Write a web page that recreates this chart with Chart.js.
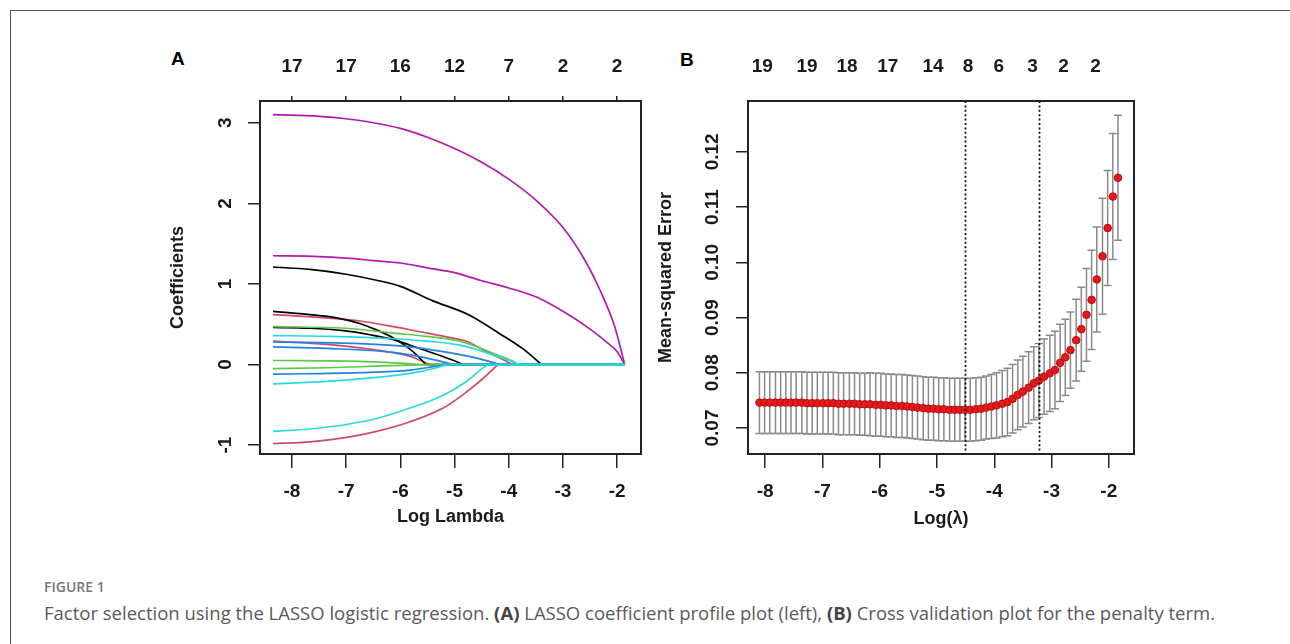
<!DOCTYPE html>
<html>
<head>
<meta charset="utf-8">
<script src="https://cdn.jsdelivr.net/npm/chart.js@4.4.1/dist/chart.umd.min.js"></script>
<style>
  html, body { margin: 0; padding: 0; background: #fff; overflow: hidden; }
  #page { position: relative; width: 1290px; height: 644px; overflow: hidden; font-family: "Liberation Sans", Arial, sans-serif; }
  #frame { position: absolute; left: 10px; top: 10px; width: 1300px; height: 660px; border-top: 1px solid #555; border-left: 1px solid #555; }
  .panelTag { position: absolute; font-size: 19px; line-height: 20px; font-weight: bold; color: #000; }
  .wrap { position: absolute; top: 40px; width: 500px; height: 500px; }
  #figLabel { position: absolute; left: 44px; top: 578px; font-family: "Open Sans", sans-serif; font-weight: 600; font-size: 14px; line-height: 18px; color: #777; }
  #caption { position: absolute; left: 44px; top: 602px; font-family: "Open Sans", sans-serif; font-size: 18.5px; line-height: 22px; color: #5a5a5a; white-space: nowrap; }
  #caption b { font-weight: 700; color: #444; }
</style>
</head>
<body>
<div id="page">
  <div id="frame"></div>
  <div class="panelTag" style="left:171px; top:49px;">A</div>
  <div class="panelTag" style="left:680px; top:50px;">B</div>
  <div class="wrap" style="left:150px;"><canvas id="chartA" width="500" height="500"></canvas></div>
  <div class="wrap" style="left:650px;"><canvas id="chartB" width="500" height="500"></canvas></div>
  <div id="figLabel">FIGURE 1</div>
  <div id="caption">Factor selection using the LASSO logistic regression. <b>(A)</b> LASSO coefficient profile plot (left), <b>(B)</b> Cross validation plot for the penalty term.</div>
</div>
<script>
// ---- panel A: coefficient paths, [log lambda, coefficient] knots
const pathC1 = [[-8.35,0.36],[-7.30,0.35],[-6.13,0.32],[-5.51,0.29],[-4.90,0.24],[-4.29,0.12],[-3.79,0]];
const pathC2 = [[-8.35,-0.24],[-7.36,-0.21],[-6.44,-0.16],[-5.82,-0.11],[-5.33,-0.04],[-5.15,0]];
const pathC3 = [[-8.35,-0.83],[-7.67,-0.80],[-7.05,-0.75],[-6.44,-0.67],[-5.82,-0.54],[-5.21,-0.38],[-4.78,-0.21],[-4.53,-0.07],[-4.38,0]];
const pathU1 = [[-8.35,0.28],[-6.75,0.26],[-5.82,0.22],[-5.21,0.16],[-4.59,0.08],[-4.16,0]];
const pathU2 = [[-8.35,0.22],[-7.36,0.20],[-6.13,0.15],[-5.51,0.08],[-5.02,0]];
const pathU3 = [[-8.35,-0.12],[-6.75,-0.10],[-5.82,-0.07],[-5.21,-0.01],[-4.90,0]];
const pathG1 = [[-8.35,0.47],[-7.00,0.45],[-6.13,0.39],[-5.51,0.35],[-4.90,0.29],[-4.59,0.22],[-4.29,0.14],[-3.92,0.04],[-3.83,0]];
const pathG2 = [[-8.35,0.05],[-6.75,0.04],[-5.82,0.01],[-5.60,0]];
const pathG3 = [[-8.35,-0.05],[-7.36,-0.04],[-6.44,-0.02],[-5.51,0]];
const pathR1 = [[-8.35,0.62],[-7.18,0.57],[-6.75,0.54],[-6.13,0.47],[-5.51,0.39],[-4.90,0.31],[-4.78,0.29],[-4.41,0.16],[-4.16,0.08],[-3.94,0]];
const pathR2 = [[-8.35,0.29],[-7.36,0.25],[-6.44,0.18],[-5.82,0.10],[-5.45,0]];
const pathR3 = [[-8.35,-0.98],[-7.67,-0.96],[-7.05,-0.91],[-6.44,-0.83],[-5.82,-0.71],[-5.21,-0.54],[-4.78,-0.34],[-4.47,-0.17],[-4.20,0]];
const pathK1 = [[-8.35,1.21],[-7.67,1.18],[-7.00,1.12],[-6.40,1.04],[-6.00,0.97],[-5.40,0.79],[-4.75,0.62],[-4.16,0.38],[-3.75,0.20],[-3.39,0]];
const pathK2 = [[-8.35,0.66],[-7.67,0.62],[-7.18,0.58],[-6.75,0.51],[-6.44,0.43],[-6.13,0.33],[-5.88,0.22],[-5.70,0.12],[-5.53,0]];
const pathK3 = [[-8.35,0.46],[-7.67,0.45],[-7.05,0.42],[-6.56,0.37],[-6.13,0.31],[-5.82,0.24],[-5.39,0.14],[-5.02,0.05],[-4.84,0]];
const pathM1 = [[-8.35,3.10],[-7.50,3.08],[-7.00,3.05],[-6.50,3.00],[-6.00,2.93],[-5.50,2.82],[-5.00,2.68],[-4.50,2.51],[-4.00,2.30],[-3.50,2.04],[-3.00,1.70],[-2.60,1.30],[-2.30,0.90],[-2.05,0.48],[-1.86,0]];
const pathM2 = [[-8.35,1.35],[-7.50,1.34],[-7.00,1.32],[-6.50,1.29],[-6.00,1.26],[-5.50,1.20],[-5.00,1.14],[-4.50,1.04],[-4.00,0.95],[-3.50,0.84],[-3.00,0.66],[-2.50,0.44],[-2.20,0.28],[-2.00,0.16],[-1.86,0]];
const pathEndA = -1.86;

const ticksA = [-8, -7, -6, -5, -4, -3, -2];
const topLabelsA = ['17', '17', '16', '12', '7', '2', '2'];
const yTicksA = [-1, 0, 1, 2, 3];

// ---- panel B: cross-validation curve
const logLambdaB = [-8.10,-8.01,-7.92,-7.82,-7.73,-7.64,-7.55,-7.46,-7.36,-7.27,-7.18,-7.09,-6.99,-6.90,-6.81,-6.72,-6.63,-6.53,-6.44,-6.35,-6.26,-6.17,-6.07,-5.98,-5.89,-5.80,-5.71,-5.61,-5.52,-5.43,-5.34,-5.24,-5.15,-5.06,-4.97,-4.88,-4.78,-4.69,-4.60,-4.51,-4.42,-4.32,-4.23,-4.14,-4.05,-3.96,-3.86,-3.77,-3.68,-3.59,-3.50,-3.40,-3.31,-3.22,-3.13,-3.03,-2.94,-2.85,-2.76,-2.67,-2.57,-2.48,-2.39,-2.30,-2.21,-2.11,-2.02,-1.93,-1.84];
const cvMean = [0.0746,0.0746,0.0746,0.0746,0.0746,0.0746,0.0746,0.0746,0.0746,0.0745,0.0745,0.0745,0.0745,0.0745,0.0745,0.0744,0.0744,0.0744,0.0744,0.0743,0.0743,0.0743,0.0742,0.0742,0.0741,0.0741,0.0740,0.0740,0.0739,0.0738,0.0737,0.0736,0.0735,0.0735,0.0734,0.0734,0.0733,0.0733,0.0733,0.0733,0.0733,0.0734,0.0735,0.0737,0.0739,0.0741,0.0744,0.0747,0.0753,0.0760,0.0766,0.0773,0.0781,0.0786,0.0793,0.0799,0.0805,0.0818,0.0828,0.0841,0.0859,0.0879,0.0905,0.0932,0.0969,0.1011,0.1062,0.1119,0.1153];
const cvSd = [0.0056,0.0056,0.0056,0.0056,0.0056,0.0056,0.0056,0.0056,0.0056,0.0056,0.0056,0.0056,0.0056,0.0056,0.0056,0.0056,0.0056,0.0056,0.0056,0.0056,0.0056,0.0057,0.0057,0.0057,0.0057,0.0057,0.0057,0.0057,0.0057,0.0057,0.0057,0.0057,0.0057,0.0057,0.0057,0.0057,0.0057,0.0057,0.0057,0.0057,0.0057,0.0057,0.0057,0.0057,0.0058,0.0059,0.0060,0.0061,0.0062,0.0063,0.0064,0.0065,0.0066,0.0067,0.0068,0.0069,0.0070,0.0070,0.0069,0.0069,0.0074,0.0076,0.0084,0.0090,0.0095,0.0105,0.0104,0.0114,0.0113];
const lambdaMin = -4.51;
const lambda1se = -3.22;

const ticksB = [-8, -7, -6, -5, -4, -3, -2];
const topTicksB = [-8.05, -7.27, -6.57, -5.86, -5.07, -4.46, -3.92, -3.33, -2.79, -2.23];
const topLabelsB = ['19', '19', '18', '17', '14', '8', '6', '3', '2', '2'];
const yTicksB = [0.07, 0.08, 0.09, 0.10, 0.11, 0.12];

// R palette
const colK = '#000000', colR = '#d24b65', colG = '#5cc94a', colU = '#2284dc', colC = '#2ad9dd', colM = '#b41aab';

const tickFont = { family: '"Liberation Sans", Arial, sans-serif', size: 19, weight: 'bold' };
const titleFont = { family: '"Liberation Sans", Arial, sans-serif', size: 18, weight: 'bold' };
const inkText = '#1a1a1a';
const inkLine = '#222';

const boxPlugin = {
    id: 'box',
    afterDraw(chart) {
        const a = chart.chartArea, c = chart.ctx;
        c.save();
        c.strokeStyle = inkLine;
        c.lineWidth = 2;
        c.strokeRect(a.left, a.top, a.right - a.left, a.bottom - a.top);
        c.restore();
    }
};

function fixedTicks(list) {
    return scale => { scale.ticks = list.map(v => ({ value: v })); };
}

// a path leaves the chart at its zero point and then runs along zero
function pathData(knots) {
    let pts = knots.map(k => ({ x: k[0], y: k[1] }));
    let last = knots[knots.length - 1];
    if (last[0] < pathEndA) {
        pts.push({ x: last[0], y: null });
        pts.push({ x: last[0], y: 0 });
        pts.push({ x: pathEndA, y: 0 });
    }
    return pts;
}

let seriesA = [
    [pathC1, colC], [pathC2, colC], [pathC3, colC],
    [pathU1, colU], [pathU2, colU], [pathU3, colU],
    [pathG1, colG], [pathG2, colG], [pathG3, colG],
    [pathK2, colK], [pathK3, colK],
    [pathR1, colR], [pathR2, colR], [pathR3, colR],
    [pathK1, colK], [pathM1, colM], [pathM2, colM]
];

new Chart(document.getElementById('chartA').getContext('2d'), {
    type: 'line',
    data: {
        datasets: seriesA.map(s => ({
            data: pathData(s[0]),
            borderColor: s[1],
            borderWidth: 1.7,
            pointRadius: 0,
            fill: false,
            spanGaps: false,
            cubicInterpolationMode: 'monotone'
        }))
    },
    options: {
        responsive: false,
        animation: false,
        layout: { padding: { left: 0, right: 9, top: 0, bottom: 0 } },
        plugins: { legend: { display: false }, tooltip: { enabled: false } },
        scales: {
            x: {
                type: 'linear', position: 'bottom', min: -8.59, max: -1.56,
                afterBuildTicks: fixedTicks(ticksA),
                afterFit: s => { s.height = 86; },
                grid: { drawOnChartArea: false, tickLength: 14, color: inkLine, lineWidth: 1.5 },
                border: { display: false },
                ticks: { font: tickFont, color: inkText, padding: 12.6, autoSkip: false, maxRotation: 0, callback: v => String(v) },
                title: { display: true, text: 'Log Lambda', font: titleFont, color: inkText, padding: { top: 0, bottom: 12 } }
            },
            x2: {
                type: 'linear', position: 'top', min: -8.59, max: -1.56,
                afterBuildTicks: fixedTicks(ticksA),
                afterFit: s => { s.height = 61; },
                grid: { drawOnChartArea: false, tickLength: 5, color: inkLine, lineWidth: 1.5 },
                border: { display: false },
                ticks: { font: tickFont, color: inkText, padding: 17.6, autoSkip: false, maxRotation: 0, callback: (v, i) => topLabelsA[i] }
            },
            y: {
                type: 'linear', min: -1.11, max: 3.27,
                afterBuildTicks: fixedTicks(yTicksA),
                afterFit: s => { s.width = 110; },
                grid: { drawOnChartArea: false, tickLength: 12, color: inkLine, lineWidth: 1.5 },
                border: { display: false },
                ticks: { font: tickFont, color: inkText, padding: 13.5, autoSkip: false, minRotation: 90, maxRotation: 90, crossAlign: 'center', callback: v => String(v) },
                title: { display: true, text: 'Coefficients', font: titleFont, color: inkText, padding: { top: 17, bottom: 0 } }
            }
        }
    },
    plugins: [boxPlugin]
});

const cvPlugin = {
    id: 'cvBars',
    beforeDatasetsDraw(chart) {
        const xs = chart.scales.x, ys = chart.scales.y, c = chart.ctx;
        c.save();
        c.strokeStyle = '#8a8a8a';
        c.lineWidth = 1.5;
        logLambdaB.forEach((lx, i) => {
            const px = xs.getPixelForValue(lx);
            const top = ys.getPixelForValue(cvMean[i] + cvSd[i]);
            const bot = ys.getPixelForValue(cvMean[i] - cvSd[i]);
            c.beginPath();
            c.moveTo(px, top); c.lineTo(px, bot);
            c.moveTo(px - 4, top); c.lineTo(px + 4, top);
            c.moveTo(px - 4, bot); c.lineTo(px + 4, bot);
            c.stroke();
        });
        c.restore();
    },
    afterDatasetsDraw(chart) {
        const xs = chart.scales.x, a = chart.chartArea, c = chart.ctx;
        c.save();
        c.strokeStyle = '#111';
        c.lineWidth = 1.8;
        c.setLineDash([2, 2.4]);
        [lambdaMin, lambda1se].forEach(v => {
            const px = Math.round(xs.getPixelForValue(v)) + 0.5;
            c.beginPath();
            c.moveTo(px, a.top); c.lineTo(px, a.bottom);
            c.stroke();
        });
        c.restore();
    }
};

new Chart(document.getElementById('chartB').getContext('2d'), {
    type: 'scatter',
    data: {
        datasets: [{
            data: logLambdaB.map((x, i) => ({ x: x, y: cvMean[i] })),
            backgroundColor: '#e3191c',
            borderColor: '#b50f12',
            borderWidth: 1,
            pointRadius: 3.8,
            showLine: false
        }]
    },
    options: {
        responsive: false,
        animation: false,
        layout: { padding: { left: 0, right: 16, top: 0, bottom: 0 } },
        plugins: { legend: { display: false }, tooltip: { enabled: false } },
        scales: {
            x: {
                type: 'linear', position: 'bottom', min: -8.30, max: -1.56,
                afterBuildTicks: fixedTicks(ticksB),
                afterFit: s => { s.height = 86; },
                grid: { drawOnChartArea: false, tickLength: 14, color: inkLine, lineWidth: 1.5 },
                border: { display: false },
                ticks: { font: tickFont, color: inkText, padding: 12.6, autoSkip: false, maxRotation: 0, callback: v => String(v) },
                title: { display: true, text: 'Log(λ)', font: titleFont, color: inkText, padding: { top: 0, bottom: 10 } }
            },
            x2: {
                type: 'linear', position: 'top', min: -8.30, max: -1.56,
                afterBuildTicks: fixedTicks(topTicksB),
                afterFit: s => { s.height = 61; },
                grid: { drawOnChartArea: false, drawTicks: false },
                border: { display: false },
                ticks: { font: tickFont, color: inkText, padding: 22.6, autoSkip: false, maxRotation: 0, callback: (v, i) => topLabelsB[i] }
            },
            y: {
                type: 'linear', min: 0.0653, max: 0.1292,
                afterBuildTicks: fixedTicks(yTicksB),
                afterFit: s => { s.width = 98; },
                grid: { drawOnChartArea: false, tickLength: 12, color: inkLine, lineWidth: 1.5 },
                border: { display: false },
                ticks: { font: tickFont, color: inkText, padding: 4.5, autoSkip: false, minRotation: 90, maxRotation: 90, crossAlign: 'center', callback: v => v.toFixed(2) },
                title: { display: true, text: 'Mean-squared Error', font: titleFont, color: inkText, padding: { top: 5, bottom: 0 } }
            }
        }
    },
    plugins: [cvPlugin, boxPlugin]
});
</script>
</body>
</html>
